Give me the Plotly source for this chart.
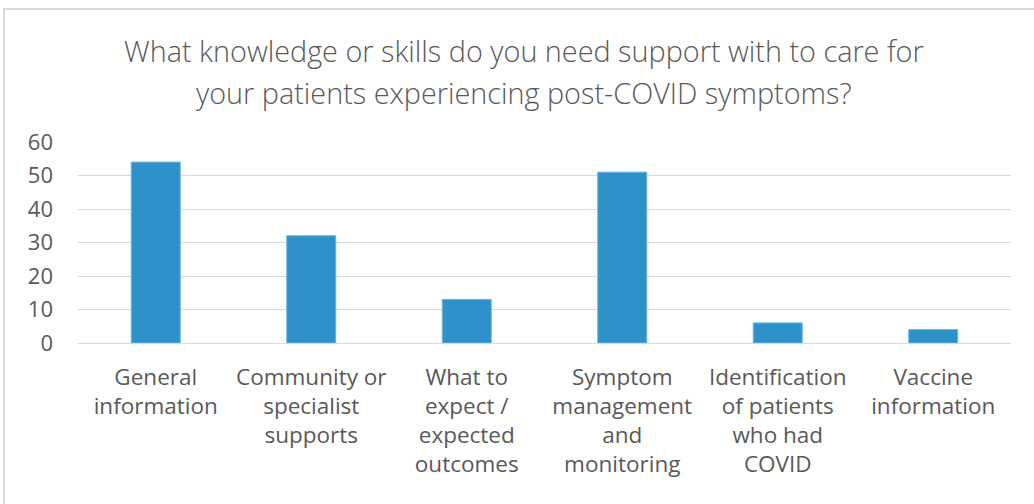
import plotly.graph_objects as go

categories = [
    "General<br>information",
    "Community or<br>specialist<br>supports",
    "What to<br>expect /<br>expected<br>outcomes",
    "Symptom<br>management<br>and<br>monitoring",
    "Identification<br>of patients<br>who had<br>COVID",
    "Vaccine<br>information",
]
values = [54, 32, 13, 51, 6, 4]
title_lines = [
    "What knowledge or skills do you need support with to care for",
    "your patients experiencing post-COVID symptoms?",
]
y_ticks = [0, 10, 20, 30, 40, 50, 60]

W, H = 1034, 504
L, R, T, B = 78, 23, 142, 161
pw, ph = W - L - R, H - T - B
FONT = "Open Sans"
GRAY = "#595959"

fig = go.Figure(go.Bar(
    x=categories, y=values,
    marker=dict(color="#2E91CA", line=dict(color="#66B5E3", width=1)),
    width=0.315,
))

fig.update_layout(
    width=W, height=H,
    margin=dict(l=L, r=R, t=T, b=B, autoexpand=False),
    paper_bgcolor="white", plot_bgcolor="white",
    showlegend=False,
    font=dict(family=FONT, color=GRAY),
    xaxis=dict(showgrid=False, showline=False, ticks="", tickfont=dict(size=22.5, color=GRAY),
               ticklabelstandoff=18, tickangle=0, automargin=False),
    yaxis=dict(range=[0, 60], tickvals=y_ticks, showgrid=True, gridcolor="#D9D9D9", gridwidth=1,
               zeroline=True, zerolinecolor="#D9D9D9", zerolinewidth=1, showline=False,
               ticks="", tickfont=dict(size=22, color=GRAY), ticklabelstandoff=24, automargin=False),
)

# title lines
for i, line in enumerate(title_lines):
    fig.add_annotation(
        text=line, xref="paper", yref="paper",
        x=(524 - L) / pw, y=(H - B - (50 + 42 * i)) / ph,
        xanchor="center", yanchor="middle", showarrow=False,
        font=dict(family=FONT, size=28.8, color=GRAY, weight=300),
    )

# outer chart border
fig.add_shape(type="rect", xref="paper", yref="paper",
              x0=(4 - L) / pw, x1=(W + 20 - L) / pw,
              y0=-1.5, y1=(H - B - 9) / ph,
              line=dict(color="#D9D9D9", width=2), layer="below")

fig.write_html("out.html", config={"displayModeBar": False},
               post_script="document.body.style.margin='0';document.body.style.overflow='hidden';")
